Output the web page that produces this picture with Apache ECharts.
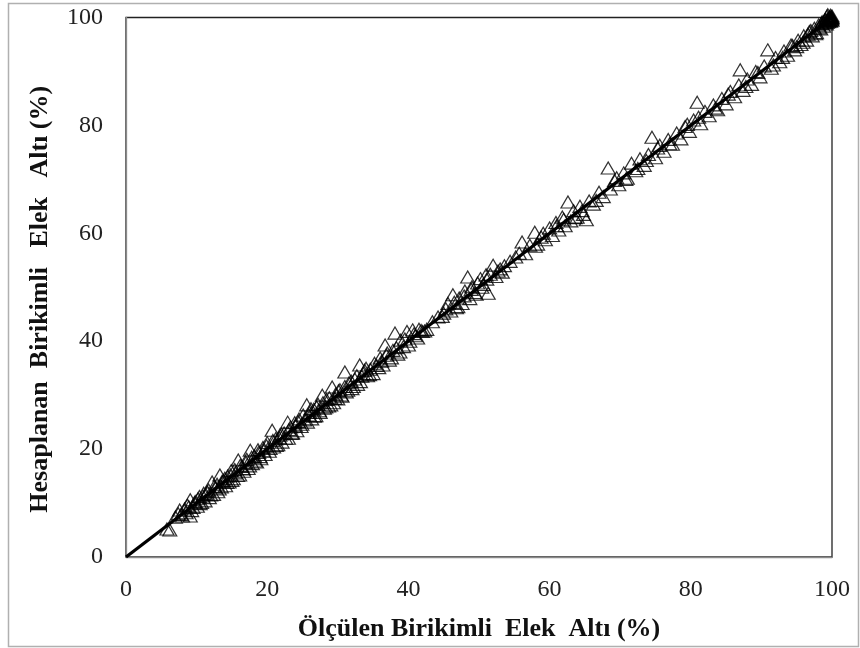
<!DOCTYPE html>
<html>
<head>
<meta charset="utf-8">
<script src="https://cdn.jsdelivr.net/npm/echarts@6/dist/echarts.min.js"></script>
<style>html,body{margin:0;padding:0;background:#fff}#c{width:860px;height:648px}</style>
</head>
<body>
<div id="c"></div>
<script>
// Measured (x) vs calculated (y) cumulative passing, %
const measured = [
5.8,6.2,7.4,7.6,8.0,8.3,8.7,9.1,9.1,9.5,9.8,10.1,10.4,10.7,11.0,11.2,11.5,11.8,12.2,12.4,
12.7,13.0,13.3,13.5,13.8,14.1,14.4,14.6,14.9,15.2,15.5,15.9,16.1,16.4,16.7,17.0,17.3,17.6,17.9,18.2,
18.5,18.8,19.1,19.4,19.7,20.0,20.3,20.7,20.9,21.2,21.5,21.8,22.1,22.4,22.9,23.0,23.3,23.6,23.9,24.2,
24.5,24.8,25.1,25.6,25.7,26.0,26.3,26.6,26.9,27.2,27.5,27.8,28.1,28.4,28.7,29.2,29.4,29.7,30.0,30.3,
30.6,31.0,31.2,31.6,32.0,32.4,32.8,33.1,33.4,33.8,34.2,34.6,35.0,35.5,36.0,36.4,36.7,36.9,37.3,37.8,
38.1,38.5,38.9,39.3,39.8,40.2,40.6,41.0,41.5,42.0,42.6,43.4,44.2,45.0,45.6,46.0,46.3,46.8,47.2,47.6,
48.0,48.4,48.7,49.0,49.4,49.8,50.2,50.6,51.0,51.3,51.6,52.0,52.4,53.0,53.6,54.4,55.2,56.1,56.6,57.2,
57.9,58.3,58.8,59.4,60.0,60.4,60.9,61.3,61.8,62.2,62.6,63.0,63.4,63.9,64.3,64.8,65.2,65.6,66.2,67.0,
67.6,68.3,68.6,69.2,69.8,70.5,71.0,71.6,72.2,72.8,73.4,74.0,74.5,75.0,75.6,76.2,76.8,77.4,78.0,78.6,
79.2,79.8,80.4,80.9,81.4,82.0,82.6,83.2,83.8,84.4,85.0,85.6,86.2,86.8,87.0,87.4,88.0,88.6,89.2,89.8,
90.4,90.9,91.4,92.0,92.6,93.2,93.7,94.2,94.7,95.2,95.6,96.0,96.4,96.8,97.2,97.5,97.8,98.1,98.4,98.6,
98.8,99.0,99.2,99.4,99.5,99.6,99.7,99.8,99.9,100.0,100.0,99.3,99.8,
7.0,7.8,8.5,8.9,9.3,9.7,10.2,10.5,10.9,11.3,11.7,12.0,12.5,12.9,13.2,13.6,14.0,14.3,14.8,15.0,
15.4,15.8,16.2,16.6,17.1,17.5,17.8,18.3,18.7,19.0,19.5,19.9,20.4,20.8,21.3,21.7,22.0,22.6,23.1,23.5,
24.0,24.4,24.9,25.3,25.9,26.2,26.7,27.0,27.4,27.9,28.3,28.8,29.0,29.6,30.1,30.5,31.0,31.4,31.9,32.2,
32.7,33.2,33.6,34.0,34.5,35.2,35.8,36.2,37.0,37.6,38.3,38.8,39.5,40.0,40.8,41.3,41.8,42.3,
44.8,45.3,46.5,47.0,47.9,48.9,49.6,50.4,51.1,52.7,53.3,55.7,58.0,59.1,61.0,62.0,63.6,64.6,66.6,69.5,
70.8,72.5,73.7,75.3,77.0,79.5,81.1,83.5,85.3,87.8,89.5,91.7,93.0,94.4,95.0,95.9,96.6,97.0,97.7,98.2,
98.5,98.9,99.1,99.3,99.5,99.6,99.7,99.8,99.9,100.0,99.4,100.0
];
const calculated = [
5.2,5.0,8.0,8.7,7.6,8.9,9.6,10.6,7.6,9.2,10.3,9.4,11.2,10.1,11.8,10.4,12.1,11.0,13.9,11.6,
12.8,12.1,15.2,13.0,14.2,13.2,15.0,13.9,16.0,14.5,15.6,18.0,15.2,16.8,15.9,17.5,16.4,19.8,17.3,18.7,
17.6,19.4,18.2,20.3,19.0,21.2,19.6,23.5,20.4,21.9,20.8,22.6,21.3,23.0,25.0,22.0,24.1,23.0,24.9,23.4,
25.6,24.2,26.3,28.2,25.0,26.8,25.6,27.4,26.2,28.3,26.8,30.0,27.6,29.2,28.0,31.5,28.6,30.2,29.3,31.0,
29.8,34.3,30.6,32.3,31.2,33.0,32.0,35.6,33.5,34.6,33.6,34.8,34.0,35.5,36.9,35.6,39.3,37.4,36.5,38.3,
41.5,37.6,40.2,39.0,41.8,40.0,42.1,41.0,42.2,41.8,42.2,43.6,44.5,45.2,47.0,45.6,48.6,46.2,48.0,47.0,
49.3,51.9,47.9,50.1,49.0,50.8,51.6,50.5,52.3,48.9,52.4,54.1,52.0,53.4,54.0,54.8,55.6,58.4,56.2,57.8,
60.2,58.0,59.3,58.8,61.0,59.6,62.0,60.6,63.0,61.4,65.8,62.3,64.2,63.0,65.0,63.5,62.5,66.0,65.4,67.6,
66.8,72.1,68.2,69.8,69.0,71.2,70.2,73.0,71.6,73.8,72.6,74.6,77.8,74.0,76.3,75.2,77.4,76.5,78.6,77.5,
79.8,78.9,81.0,84.3,80.3,82.6,81.8,83.8,82.9,85.0,84.0,86.3,85.3,87.5,90.3,86.5,88.6,87.6,90.0,89.0,
91.0,94.0,90.6,92.6,91.8,93.8,93.0,94.9,94.0,95.8,95.0,96.6,95.8,97.4,96.6,98.0,97.2,98.6,97.9,99.2,
98.4,99.5,98.8,99.8,99.2,100.0,99.5,99.9,99.6,99.8,100.0,100.3,100.4,
7.4,7.9,8.2,9.3,8.6,10.0,10.8,9.9,11.3,11.6,12.4,11.5,13.1,13.5,12.6,14.0,14.6,13.8,15.2,14.2,
16.2,15.1,17.0,16.3,18.1,16.9,18.5,17.8,19.9,18.6,19.7,20.6,20.1,21.6,20.7,22.1,22.8,22.0,23.6,22.9,
24.3,25.1,24.6,25.4,26.3,27.5,26.1,27.8,27.1,28.6,27.8,29.5,28.2,29.4,30.8,30.0,31.6,30.9,32.6,31.6,
33.6,32.5,34.0,35.0,33.8,35.9,35.1,36.3,37.8,36.9,38.8,38.0,40.4,39.3,41.4,40.6,42.0,41.9,
44.6,46.0,47.2,46.4,48.4,49.6,48.7,50.0,51.5,53.0,52.8,56.3,57.6,60.0,61.4,62.6,62.9,64.2,66.1,70.3,
70.0,72.0,73.5,75.8,76.6,80.2,81.5,83.2,85.8,87.2,89.8,91.2,92.6,94.8,94.6,95.4,96.9,97.6,97.0,98.1,
98.9,99.0,99.6,99.1,99.7,99.4,100.2,99.3,100.1,99.5,100.5,100.3
];
const lineX = [0, 100];
const lineY = [0, 100];
const ticks = [0, 20, 40, 60, 80, 100];

const pts = measured.map((x, i) => [x, calculated[i]]);
const fitLine = lineX.map((x, i) => [x, lineY[i]]);

const font = '"Liberation Serif", "Times New Roman", serif';
const chart = echarts.init(document.getElementById('c'), null, {renderer: 'canvas'});
chart.setOption({
  animation: false,
  backgroundColor: '#ffffff',
  grid: {left: 126, right: 28, top: 17.5, bottom: 91, show: true, borderColor: '#222', borderWidth: 1.3, backgroundColor: 'transparent'},
  xAxis: {
    type: 'value', min: 0, max: 100, interval: 20,
    name: 'Ölçülen Birikimli  Elek  Altı (%)', nameLocation: 'middle', nameGap: 59,
    nameTextStyle: {fontFamily: font, fontSize: 26, fontWeight: 'bold', color: '#111'},
    axisLine: {show: true, lineStyle: {color: '#8a8a8a', width: 1.3}},
    axisTick: {show: false},
    splitLine: {show: false},
    axisLabel: {fontFamily: font, fontSize: 24, color: '#222', margin: 21,
      formatter: v => ticks.includes(v) ? String(v) : ''}
  },
  yAxis: {
    type: 'value', min: 0, max: 100, interval: 20,
    name: 'Hesaplanan  Birikimli   Elek   Altı (%)', nameLocation: 'middle', nameGap: 73,
    nameTextStyle: {fontFamily: font, fontSize: 26, fontWeight: 'bold', color: '#111', padding: [0, 24, 0, 0]},
    axisLine: {show: true, lineStyle: {color: '#8a8a8a', width: 1.3}},
    axisTick: {show: false},
    splitLine: {show: false},
    axisLabel: {fontFamily: font, fontSize: 24, color: '#222', margin: 23,
      formatter: v => ticks.includes(v) ? String(v) : ''}
  },
  graphic: [{
    type: 'rect', shape: {x: 8.5, y: 3.5, width: 850, height: 643},
    style: {fill: 'none', stroke: '#b0b0b0', lineWidth: 1.5}, z: -10
  }],
  series: [
    {
      type: 'scatter', data: pts, symbol: 'triangle', symbolSize: [14, 12], clip: false,
      itemStyle: {color: 'rgba(0,0,0,0)', borderColor: '#000', borderWidth: 1.2}, z: 2
    },
    {
      type: 'line', data: fitLine, showSymbol: false, symbol: 'none',
      lineStyle: {color: '#000', width: 3.2}, z: 3
    }
  ]
});
</script>
</body>
</html>
